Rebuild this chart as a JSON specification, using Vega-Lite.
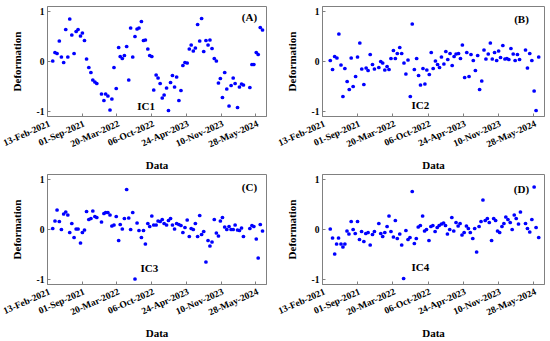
{
"$schema": "https://vega.github.io/schema/vega-lite/v6.json",
"padding": {"left": 0, "top": 5, "right": 2, "bottom": 2},
"background": "white",
"datasets": {
"A": [
{"day":33,"def":0},{"day":46,"def":0.17},{"day":58,"def":0.15},{"day":71,"def":0.4},{"day":83,"def":0.08},{"day":96,"def":-0.03},{"day":108,"def":0.63},{"day":120,"def":0.08},{"day":131,"def":0.84},{"day":143,"def":0.52},{"day":156,"def":0.15},{"day":168,"def":0.59},{"day":179,"def":0.63},{"day":193,"def":0.5},{"day":204,"def":0.56},{"day":216,"def":0.41},{"day":228,"def":0.04},{"day":241,"def":-0.13},{"day":253,"def":-0.23},{"day":264,"def":-0.38},{"day":276,"def":-0.42},{"day":287,"def":-0.45},{"day":314,"def":-0.66},{"day":328,"def":-0.79},{"day":338,"def":-0.66},{"day":351,"def":-0.7},{"day":363,"def":-0.98},{"day":374,"def":-0.76},{"day":386,"def":-0.13},{"day":399,"def":-0.55},{"day":413,"def":0.27},{"day":422,"def":0.09},{"day":434,"def":0.05},{"day":446,"def":0.11},{"day":459,"def":0.29},{"day":471,"def":-0.38},{"day":482,"def":0.66},{"day":494,"def":0.08},{"day":507,"def":0.49},{"day":519,"def":0.64},{"day":530,"def":0.66},{"day":544,"def":0.79},{"day":556,"def":0.41},{"day":567,"def":0.42},{"day":581,"def":0.24},{"day":592,"def":0.11},{"day":604,"def":0.09},{"day":615,"def":-0.58},{"day":629,"def":-0.28},{"day":640,"def":-0.34},{"day":652,"def":-0.45},{"day":664,"def":-0.74},{"day":675,"def":-0.68},{"day":689,"def":-0.54},{"day":700,"def":-0.99},{"day":712,"def":-0.43},{"day":723,"def":-0.29},{"day":735,"def":-0.52},{"day":747,"def":-0.32},{"day":760,"def":-0.79},{"day":772,"def":-0.59},{"day":783,"def":-0.09},{"day":795,"def":-0.03},{"day":808,"def":-0.04},{"day":820,"def":0.24},{"day":831,"def":0.32},{"day":843,"def":0.2},{"day":855,"def":0.26},{"day":868,"def":0.73},{"day":880,"def":0.4},{"day":891,"def":0.85},{"day":903,"def":0.19},{"day":916,"def":0.41},{"day":928,"def":0.32},{"day":939,"def":0.42},{"day":951,"def":0.25},{"day":964,"def":0.05},{"day":976,"def":0},{"day":988,"def":-0.44},{"day":999,"def":-0.35},{"day":1011,"def":-0.73},{"day":1024,"def":-0.23},{"day":1036,"def":-0.56},{"day":1049,"def":-0.9},{"day":1061,"def":-0.49},{"day":1073,"def":-0.34},{"day":1084,"def":-0.45},{"day":1098,"def":-0.93},{"day":1109,"def":-0.52},{"day":1121,"def":-0.46},{"day":1132,"def":-0.48},{"day":1169,"def":-0.53},{"day":1181,"def":-0.07},{"day":1192,"def":-0.07},{"day":1206,"def":0.17},{"day":1217,"def":0.13},{"day":1229,"def":0.67},{"day":1242,"def":0.62}
],
"B": [
{"day":47,"def":0.01},{"day":60,"def":-0.17},{"day":72,"def":0.09},{"day":85,"def":0.06},{"day":96,"def":0.54},{"day":108,"def":-0.08},{"day":119,"def":-0.71},{"day":130,"def":-0.15},{"day":143,"def":-0.41},{"day":155,"def":-0.57},{"day":166,"def":0.06},{"day":177,"def":-0.51},{"day":191,"def":-0.31},{"day":202,"def":0.08},{"day":215,"def":0.36},{"day":226,"def":-0.16},{"day":238,"def":-0.47},{"day":251,"def":-0.14},{"day":262,"def":-0.19},{"day":274,"def":0.13},{"day":287,"def":-0.07},{"day":298,"def":-0.16},{"day":323,"def":-0.13},{"day":334,"def":-0.01},{"day":345,"def":-0.04},{"day":357,"def":-0.18},{"day":370,"def":-0.11},{"day":381,"def":-0.17},{"day":392,"def":0.05},{"day":406,"def":0.21},{"day":417,"def":0.05},{"day":428,"def":0.15},{"day":442,"def":0.27},{"day":453,"def":0.15},{"day":466,"def":-0.04},{"day":477,"def":-0.26},{"day":489,"def":0.02},{"day":502,"def":-0.71},{"day":513,"def":0.74},{"day":525,"def":-0.17},{"day":538,"def":0.05},{"day":549,"def":-0.29},{"day":560,"def":-0.48},{"day":574,"def":-0.15},{"day":585,"def":-0.46},{"day":596,"def":-0.18},{"day":610,"def":-0.27},{"day":621,"def":0.17},{"day":632,"def":-0.15},{"day":645,"def":0},{"day":657,"def":-0.07},{"day":668,"def":-0.13},{"day":679,"def":0.08},{"day":693,"def":-0.06},{"day":704,"def":0.19},{"day":715,"def":0.03},{"day":728,"def":0.15},{"day":740,"def":-0.09},{"day":751,"def":0.09},{"day":762,"def":0.14},{"day":776,"def":0.15},{"day":787,"def":0.05},{"day":798,"def":0.32},{"day":811,"def":-0.33},{"day":823,"def":0.17},{"day":836,"def":-0.31},{"day":847,"def":0.13},{"day":860,"def":0.01},{"day":872,"def":-0.19},{"day":885,"def":0.11},{"day":896,"def":-0.57},{"day":908,"def":-0.4},{"day":921,"def":0.22},{"day":932,"def":0.04},{"day":945,"def":0.14},{"day":957,"def":0.36},{"day":968,"def":0.04},{"day":981,"def":0.17},{"day":993,"def":0.01},{"day":1004,"def":0.2},{"day":1015,"def":0.07},{"day":1028,"def":0.31},{"day":1040,"def":0.04},{"day":1051,"def":0.05},{"day":1062,"def":0.03},{"day":1074,"def":0.25},{"day":1087,"def":0.14},{"day":1098,"def":0.01},{"day":1111,"def":0.13},{"day":1123,"def":0.03},{"day":1157,"def":0.22},{"day":1168,"def":-0.14},{"day":1181,"def":0.15},{"day":1193,"def":0.01},{"day":1206,"def":-0.6},{"day":1217,"def":-0.99},{"day":1232,"def":0.08}
],
"C": [
{"day":33,"def":0.01},{"day":46,"def":0.16},{"day":58,"def":0.38},{"day":71,"def":0.15},{"day":83,"def":-0.01},{"day":96,"def":0.3},{"day":108,"def":0.34},{"day":120,"def":0.28},{"day":131,"def":-0.07},{"day":143,"def":0.11},{"day":156,"def":-0.17},{"day":168,"def":0},{"day":179,"def":0},{"day":193,"def":-0.28},{"day":204,"def":-0.07},{"day":216,"def":-0.02},{"day":228,"def":0.35},{"day":241,"def":0.19},{"day":253,"def":0.21},{"day":264,"def":0.36},{"day":276,"def":0.25},{"day":287,"def":0.23},{"day":314,"def":0.14},{"day":328,"def":0.31},{"day":338,"def":0.33},{"day":351,"def":0.33},{"day":363,"def":0.28},{"day":374,"def":0.06},{"day":386,"def":0.08},{"day":399,"def":0.25},{"day":413,"def":-0.23},{"day":422,"def":0.09},{"day":434,"def":0},{"day":446,"def":0.21},{"day":459,"def":0.79},{"day":471,"def":0.22},{"day":482,"def":-0.01},{"day":494,"def":0.33},{"day":507,"def":-1.0},{"day":519,"def":0.12},{"day":530,"def":-0.03},{"day":544,"def":-0.17},{"day":556,"def":-0.03},{"day":567,"def":-0.3},{"day":581,"def":0.11},{"day":592,"def":0.05},{"day":604,"def":0.26},{"day":615,"def":0.08},{"day":629,"def":0.08},{"day":640,"def":0.16},{"day":652,"def":0.15},{"day":664,"def":0.19},{"day":675,"def":0.11},{"day":689,"def":0.08},{"day":700,"def":0.17},{"day":712,"def":0.21},{"day":723,"def":0.08},{"day":735,"def":0},{"day":747,"def":0.11},{"day":760,"def":0.09},{"day":772,"def":0.07},{"day":783,"def":-0.07},{"day":795,"def":0.03},{"day":808,"def":0.18},{"day":820,"def":-0.15},{"day":831,"def":0.01},{"day":843,"def":-0.01},{"day":855,"def":0.11},{"day":868,"def":-0.15},{"day":880,"def":0.27},{"day":891,"def":-0.11},{"day":903,"def":-0.05},{"day":916,"def":-0.66},{"day":928,"def":-0.23},{"day":939,"def":-0.34},{"day":951,"def":-0.26},{"day":964,"def":0.19},{"day":976,"def":-0.08},{"day":988,"def":-0.14},{"day":999,"def":0.16},{"day":1011,"def":0.23},{"day":1024,"def":0.04},{"day":1036,"def":-0.01},{"day":1049,"def":0.05},{"day":1061,"def":-0.01},{"day":1073,"def":-0.01},{"day":1084,"def":0.08},{"day":1098,"def":-0.02},{"day":1109,"def":-0.03},{"day":1121,"def":0.02},{"day":1132,"def":-0.15},{"day":1169,"def":0.01},{"day":1181,"def":0.07},{"day":1192,"def":0.05},{"day":1206,"def":-0.2},{"day":1217,"def":-0.58},{"day":1229,"def":0.09},{"day":1242,"def":-0.04}
],
"D": [
{"day":47,"def":0},{"day":60,"def":-0.18},{"day":72,"def":-0.5},{"day":83,"def":-0.3},{"day":94,"def":-0.18},{"day":108,"def":-0.3},{"day":119,"def":-0.36},{"day":130,"def":-0.3},{"day":142,"def":-0.04},{"day":153,"def":-0.1},{"day":166,"def":0.15},{"day":177,"def":-0.01},{"day":189,"def":-0.09},{"day":202,"def":0.15},{"day":213,"def":-0.21},{"day":225,"def":-0.05},{"day":238,"def":-0.25},{"day":249,"def":-0.09},{"day":262,"def":-0.07},{"day":274,"def":-0.32},{"day":287,"def":-0.11},{"day":298,"def":-0.05},{"day":323,"def":0.11},{"day":334,"def":-0.09},{"day":345,"def":-0.15},{"day":357,"def":-0.07},{"day":370,"def":0.05},{"day":381,"def":0.26},{"day":392,"def":-0.05},{"day":406,"def":-0.16},{"day":417,"def":0.17},{"day":428,"def":-0.19},{"day":442,"def":-0.1},{"day":453,"def":-0.32},{"day":464,"def":-0.99},{"day":477,"def":-0.03},{"day":489,"def":-0.21},{"day":500,"def":-0.17},{"day":513,"def":0.75},{"day":525,"def":-0.29},{"day":536,"def":-0.19},{"day":547,"def":0.04},{"day":559,"def":0.07},{"day":572,"def":0.26},{"day":583,"def":-0.04},{"day":594,"def":-0.01},{"day":608,"def":-0.23},{"day":619,"def":0.05},{"day":630,"def":0.07},{"day":643,"def":-0.05},{"day":655,"def":0.03},{"day":666,"def":0.07},{"day":679,"def":0.1},{"day":691,"def":0.12},{"day":702,"def":0.07},{"day":713,"def":-0.1},{"day":726,"def":-0.01},{"day":738,"def":0.23},{"day":749,"def":-0.04},{"day":762,"def":0.13},{"day":774,"def":0.06},{"day":785,"def":0.11},{"day":796,"def":-0.12},{"day":808,"def":-0.07},{"day":821,"def":0.06},{"day":832,"def":0.01},{"day":843,"def":-0.07},{"day":857,"def":-0.19},{"day":868,"def":0.01},{"day":879,"def":-0.46},{"day":893,"def":0.05},{"day":904,"def":0.15},{"day":915,"def":0.58},{"day":928,"def":0.17},{"day":940,"def":0.21},{"day":951,"def":0.13},{"day":964,"def":-0.23},{"day":976,"def":0.21},{"day":987,"def":0.17},{"day":998,"def":-0.04},{"day":1010,"def":-0.07},{"day":1023,"def":0.05},{"day":1034,"def":0.11},{"day":1045,"def":0.24},{"day":1057,"def":0.19},{"day":1070,"def":0.13},{"day":1081,"def":-0.01},{"day":1093,"def":0.28},{"day":1104,"def":0.21},{"day":1117,"def":0.1},{"day":1128,"def":0.34},{"day":1157,"def":0.11},{"day":1168,"def":0.01},{"day":1181,"def":-0.06},{"day":1193,"def":0.19},{"day":1206,"def":0.84},{"day":1217,"def":0.03},{"day":1232,"def":-0.17}
]
},
"vconcat": [
{"hconcat": [
{"width": 219, "height": 110, "layer": [
{"data": {"name": "A"}, "mark": {"type": "circle", "color": "#0000ff", "opacity": 1, "size": 14},
 "encoding": {"x": {"field": "day", "type": "quantitative", "title": "Data", "scale": {"domain": [0, 1262], "nice": false}}, "y": {"field": "def", "type": "quantitative", "title": "Deformation", "scale": {"domain": [-1.1, 1.1], "nice": false}}}},
{"data": {"values": [{}]}, "mark": {"type": "text", "font": "Liberation Serif", "fontWeight": "bold", "fontSize": 11, "color": "#000"},
 "encoding": {"x": {"datum": 1167, "type": "quantitative"}, "y": {"datum": 0.86, "type": "quantitative"}, "text": {"value": "(A)"}}},
{"data": {"values": [{}]}, "mark": {"type": "text", "font": "Liberation Serif", "fontWeight": "bold", "fontSize": 11, "color": "#000"},
 "encoding": {"x": {"datum": 571, "type": "quantitative"}, "y": {"datum": -0.91, "type": "quantitative"}, "text": {"value": "IC1"}}}
]},
{"width": 222, "height": 110, "layer": [
{"data": {"name": "B"}, "mark": {"type": "circle", "color": "#0000ff", "opacity": 1, "size": 14},
 "encoding": {"x": {"field": "day", "type": "quantitative", "title": "Data", "scale": {"domain": [0, 1262], "nice": false}}, "y": {"field": "def", "type": "quantitative", "title": "Deformation", "scale": {"domain": [-1.1, 1.1], "nice": false}}}},
{"data": {"values": [{}]}, "mark": {"type": "text", "font": "Liberation Serif", "fontWeight": "bold", "fontSize": 11, "color": "#000"},
 "encoding": {"x": {"datum": 1134, "type": "quantitative"}, "y": {"datum": 0.83, "type": "quantitative"}, "text": {"value": "(B)"}}},
{"data": {"values": [{}]}, "mark": {"type": "text", "font": "Liberation Serif", "fontWeight": "bold", "fontSize": 11, "color": "#000"},
 "encoding": {"x": {"datum": 559, "type": "quantitative"}, "y": {"datum": -0.9, "type": "quantitative"}, "text": {"value": "IC2"}}}
]}
]},
{"hconcat": [
{"width": 219, "height": 110, "layer": [
{"data": {"name": "C"}, "mark": {"type": "circle", "color": "#0000ff", "opacity": 1, "size": 14},
 "encoding": {"x": {"field": "day", "type": "quantitative", "title": "Data", "scale": {"domain": [0, 1262], "nice": false}}, "y": {"field": "def", "type": "quantitative", "title": "Deformation", "scale": {"domain": [-1.1, 1.1], "nice": false}}}},
{"data": {"values": [{}]}, "mark": {"type": "text", "font": "Liberation Serif", "fontWeight": "bold", "fontSize": 11, "color": "#000"},
 "encoding": {"x": {"datum": 1167, "type": "quantitative"}, "y": {"datum": 0.82, "type": "quantitative"}, "text": {"value": "(C)"}}},
{"data": {"values": [{}]}, "mark": {"type": "text", "font": "Liberation Serif", "fontWeight": "bold", "fontSize": 11, "color": "#000"},
 "encoding": {"x": {"datum": 590, "type": "quantitative"}, "y": {"datum": -0.8, "type": "quantitative"}, "text": {"value": "IC3"}}}
]},
{"width": 222, "height": 110, "layer": [
{"data": {"name": "D"}, "mark": {"type": "circle", "color": "#0000ff", "opacity": 1, "size": 14},
 "encoding": {"x": {"field": "day", "type": "quantitative", "title": "Data", "scale": {"domain": [0, 1262], "nice": false}}, "y": {"field": "def", "type": "quantitative", "title": "Deformation", "scale": {"domain": [-1.1, 1.1], "nice": false}}}},
{"data": {"values": [{}]}, "mark": {"type": "text", "font": "Liberation Serif", "fontWeight": "bold", "fontSize": 11, "color": "#000"},
 "encoding": {"x": {"datum": 1134, "type": "quantitative"}, "y": {"datum": 0.79, "type": "quantitative"}, "text": {"value": "(D)"}}},
{"data": {"values": [{}]}, "mark": {"type": "text", "font": "Liberation Serif", "fontWeight": "bold", "fontSize": 11, "color": "#000"},
 "encoding": {"x": {"datum": 559, "type": "quantitative"}, "y": {"datum": -0.77, "type": "quantitative"}, "text": {"value": "IC4"}}}
]}
]}
],
"spacing": 2,
"config": {
 "concat": {"spacing": 8},
 "view": {"stroke": "#808080", "strokeWidth": 1},
 "axis": {"grid": false, "labelFont": "Liberation Serif", "labelFontWeight": "bold", "labelColor": "#000",
  "titleFont": "Liberation Serif", "titleFontWeight": "bold", "titleFontSize": 11, "titleColor": "#000",
  "domainColor": "#808080", "tickColor": "#808080", "tickSize": -3, "labelOverlap": false, "labelFlush": false},
 "axisX": {"values": [0, 200, 400, 600, 800, 1000, 1200], "labelAngle": -24, "labelAlign": "right", "labelBaseline": "top", "labelFontSize": 9.5, "labelPadding": 5, "titlePadding": 11,
  "labelExpr": "['13-Feb-2021','01-Sep-2021','20-Mar-2022','06-Oct-2022','24-Apr-2023','10-Nov-2023','28-May-2024'][round(datum.value/200)]"},
 "axisY": {"values": [-1, -0.5, 0, 0.5, 1], "labelFontSize": 9.5, "labelPadding": 6, "minExtent": 22, "maxExtent": 22, "titlePadding": 3,
  "labelExpr": "(datum.value < 0 ? '-' : '') + format(abs(datum.value), '.2~f')"}
}
}
